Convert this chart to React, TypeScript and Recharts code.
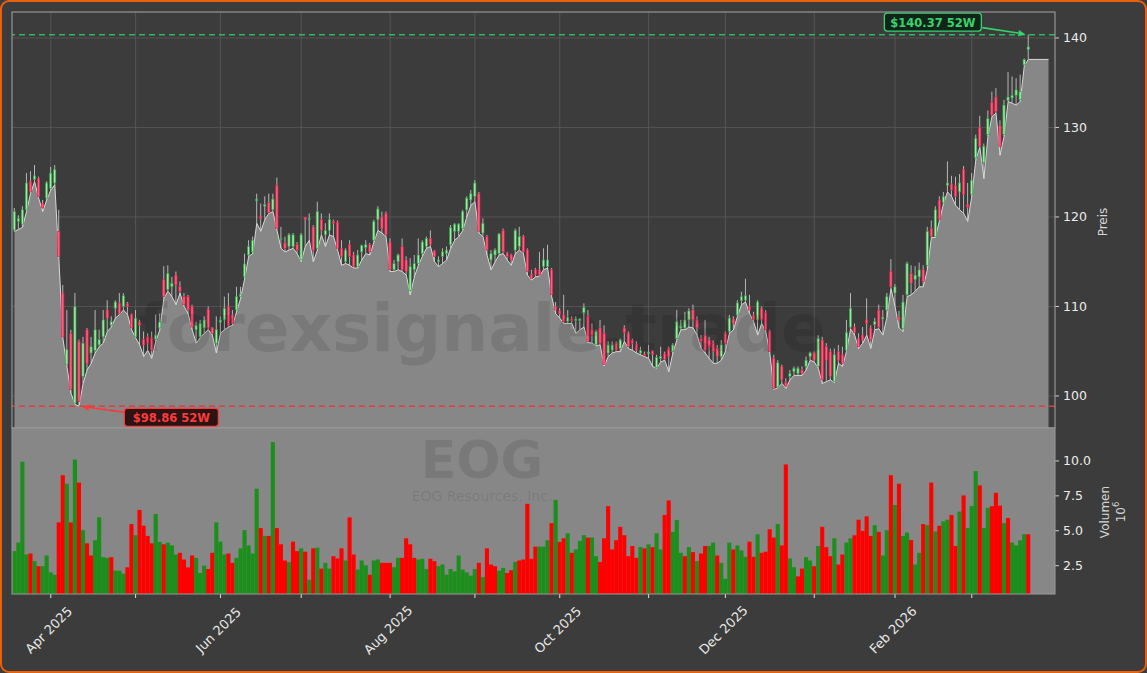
import React from "react";
import {
  ComposedChart,
  Area,
  Bar,
  XAxis,
  YAxis,
  CartesianGrid,
  ReferenceLine,
  ReferenceDot,
} from "recharts";

// EOG daily candles, 19 Mar 2025 .. 20 Mar 2026 (trading days, index = position)
const opens = [
  118.55, 119.5, 119.2, 120.8, 123.95, 124.2, 124.3, 121.5, 122.1, 123.2,
  123.8, 118.4, 111.5, 103.5, 107.0, 99.2, 106.1, 102.2, 107.4, 104.8,
  105.1, 105.7, 106.6, 109.6, 107.9, 109.8, 110.4, 110.0, 110.3, 109.1,
  106.6, 108.3, 106.3, 106.6, 106.5, 106.3, 107.6, 113.0, 111.9, 112.2,
  113.5, 112.2, 111.1, 111.1, 110.0, 107.4, 106.6, 107.6, 109.7, 107.6,
  105.9, 108.2, 108.5, 110.0, 109.05, 109.6, 111.1, 113.3, 115.75, 116.1,
  121.8, 120.1, 121.2, 121.6, 120.8, 123.5, 117.5, 117.1, 116.7, 116.7,
  116.9, 115.2, 119.96, 119.7, 118.9, 116.5, 119.7, 118.0, 118.5, 119.5,
  119.4, 116.5, 115.0, 116.9, 115.75, 114.45, 116.1, 116.6, 116.9, 117.4,
  119.7, 120.0, 120.4, 117.2, 114.1, 115.0, 116.7, 115.2, 111.8, 114.1,
  114.8, 115.9, 116.7, 117.6, 116.2, 115.0, 115.6, 115.9, 116.9, 118.4,
  118.4, 118.7, 120.8, 121.9, 122.3, 122.6, 118.2, 117.8, 115.2, 115.75,
  115.9, 118.5, 115.9, 115.75, 116.3, 116.7, 117.8, 116.3, 113.6, 114.1,
  114.1, 114.45, 114.45, 114.1, 110.0, 109.5, 109.05, 108.3, 108.6, 108.4,
  108.4, 109.3, 108.9, 107.4, 105.7, 107.6, 107.0, 104.8, 105.1, 105.9,
  105.3, 107.6, 107.0, 106.2, 105.8, 104.8, 104.7, 104.7, 105.0, 103.2,
  104.2, 104.7, 105.3, 104.95, 106.4, 107.6, 107.6, 108.5, 109.6, 108.5,
  106.4, 106.8, 106.25, 105.9, 105.3, 104.4, 107.0, 107.2, 108.6, 109.05,
  110.65, 110.7, 110.0, 109.05, 108.5, 109.8, 109.3, 107.2, 104.2, 101.0,
  103.3, 101.5, 102.2, 102.7, 102.5, 102.9, 103.3, 104.4, 104.8, 103.3,
  106.25, 105.5, 104.95, 101.6, 104.95, 104.6, 105.1, 107.7, 107.7, 106.4,
  106.8, 108.5, 107.6, 108.0, 109.6, 108.6, 109.6, 113.9, 111.5, 108.8,
  107.5, 111.3, 113.7, 113.0, 113.3, 114.1, 114.6, 118.7, 117.8, 121.9,
  121.6, 123.5, 123.7, 123.5, 122.8, 125.3, 121.4, 122.5, 126.6, 130.0,
  126.1, 129.2, 132.8, 133.4, 130.2, 129.2, 133.0, 133.3, 133.6, 133.1,
  137.0, 138.7,
];

const highs = [
  121.0, 120.2, 121.2, 124.9, 125.1, 125.8, 124.5, 121.9, 124.0, 125.6,
  125.8, 120.8, 112.4, 109.6, 107.4, 111.5, 106.3, 106.6, 107.6, 106.6,
  109.6, 107.4, 109.6, 110.7, 108.9, 110.7, 111.5, 111.5, 110.5, 109.2,
  109.6, 108.5, 107.2, 107.0, 107.2, 109.1, 109.2, 114.5, 114.6, 113.3,
  113.9, 112.8, 111.5, 111.3, 110.2, 108.3, 108.5, 108.9, 110.0, 107.7,
  108.9, 108.9, 111.1, 111.5, 109.6, 112.2, 112.2, 115.9, 117.4, 117.8,
  122.6, 121.5, 122.3, 122.6, 122.6, 124.4, 118.9, 117.8, 118.2, 118.2,
  117.2, 118.2, 120.0, 120.4, 119.1, 121.7, 120.4, 119.3, 120.4, 119.7,
  119.6, 117.4, 116.5, 117.4, 116.1, 116.3, 116.9, 117.4, 117.1, 119.7,
  121.2, 120.6, 120.6, 117.6, 115.2, 115.9, 117.6, 115.6, 115.4, 115.75,
  117.6, 117.4, 117.8, 118.5, 116.3, 115.6, 116.5, 116.7, 119.1, 119.3,
  119.3, 120.8, 122.3, 123.0, 124.1, 122.8, 119.85, 118.0, 116.3, 116.5,
  118.2, 118.7, 116.1, 115.9, 118.7, 118.9, 118.0, 116.5, 114.1, 114.3,
  116.1, 116.5, 116.9, 114.3, 110.5, 109.8, 111.3, 109.6, 108.9, 108.9,
  108.7, 110.35, 109.6, 108.1, 107.4, 108.5, 107.9, 106.1, 106.1, 106.1,
  106.4, 107.9, 107.2, 106.4, 106.1, 105.5, 104.95, 105.7, 105.1, 104.6,
  105.5, 104.95, 105.5, 105.9, 109.6, 108.5, 109.4, 109.8, 110.2, 108.9,
  106.8, 108.5, 106.6, 106.2, 105.7, 106.25, 107.2, 109.05, 108.9, 110.7,
  111.65, 113.1, 111.3, 109.4, 110.7, 110.0, 109.6, 107.4, 104.6, 104.0,
  103.5, 101.97, 102.9, 103.3, 103.3, 103.3, 104.4, 104.95, 104.95, 106.8,
  106.6, 105.9, 105.3, 105.3, 105.7, 105.5, 108.5, 111.5, 108.1, 107.0,
  107.7, 110.9, 107.9, 108.7, 110.2, 109.6, 111.5, 115.3, 112.5, 109.5,
  111.3, 115.0, 114.6, 114.5, 114.9, 114.6, 118.9, 119.6, 121.2, 122.3,
  122.8, 126.2, 124.6, 124.5, 124.8, 125.7, 123.8, 124.9, 129.2, 131.3,
  128.2, 131.9, 134.0, 134.4, 130.8, 133.1, 136.2, 135.7, 135.5, 135.9,
  137.7, 140.37,
];

const lows = [
  118.4, 118.6, 118.85, 120.6, 122.65, 123.95, 122.1, 120.6, 121.9, 123.0,
  123.6, 115.4, 106.45, 103.3, 100.3, 99.05, 98.86, 101.4, 102.9, 103.65,
  104.8, 105.5, 105.9, 107.2, 107.7, 108.7, 109.1, 109.6, 109.1, 107.4,
  106.5, 105.7, 104.4, 105.1, 104.2, 106.1, 107.4, 110.9, 111.7, 111.1,
  110.2, 111.5, 110.0, 109.2, 107.4, 105.9, 106.5, 107.0, 107.4, 106.8,
  104.8, 107.0, 107.4, 107.7, 107.9, 109.4, 110.9, 113.1, 115.6, 115.9,
  119.3, 118.4, 119.7, 120.4, 120.6, 118.5, 116.5, 116.1, 116.3, 116.5,
  115.9, 115.0, 116.7, 117.4, 115.0, 116.3, 118.0, 116.7, 118.0, 117.8,
  116.3, 114.6, 114.8, 114.6, 114.3, 114.3, 115.2, 115.9, 115.75, 117.2,
  118.5, 118.2, 117.8, 113.9, 113.9, 114.1, 113.9, 113.5, 111.3, 113.3,
  114.6, 115.6, 116.5, 116.7, 115.0, 114.45, 114.8, 115.2, 116.5, 117.4,
  117.8, 118.5, 120.0, 121.3, 121.7, 118.2, 117.8, 115.75, 114.1, 115.0,
  115.75, 115.9, 115.2, 114.6, 115.9, 116.3, 115.9, 113.5, 112.95, 113.3,
  113.4, 114.1, 114.3, 111.1, 109.2, 108.7, 108.1, 108.1, 108.1, 107.0,
  107.4, 107.7, 105.96, 105.9, 105.6, 105.7, 103.35, 104.4, 104.8, 104.95,
  104.95, 106.1, 105.3, 105.1, 104.8, 104.6, 104.4, 104.2, 103.3, 103.1,
  103.8, 104.0, 102.7, 104.8, 106.25, 107.4, 107.4, 107.7, 107.6, 106.8,
  105.3, 104.8, 104.2, 103.65, 103.65, 104.0, 104.95, 107.0, 107.4, 108.9,
  110.2, 110.5, 109.2, 108.3, 106.8, 108.1, 107.2, 104.8, 100.75, 100.9,
  101.4, 100.85, 101.8, 102.3, 102.3, 102.3, 102.9, 104.0, 103.8, 103.1,
  101.4, 101.6, 101.8, 101.5, 103.65, 103.3, 105.0, 107.5, 106.8, 105.3,
  105.9, 106.8, 105.3, 107.4, 107.5, 106.8, 108.8, 112.0, 110.0, 107.6,
  107.2, 111.1, 111.3, 111.7, 112.2, 112.2, 114.1, 117.7, 117.7, 119.6,
  121.5, 122.8, 122.3, 121.3, 120.8, 120.4, 119.5, 122.3, 126.4, 127.8,
  124.3, 129.0, 131.2, 131.6, 126.9, 129.0, 132.9, 132.7, 132.5, 132.9,
  136.9, 137.6,
];

const closes = [
  120.6, 119.85, 120.8, 123.8, 122.8, 124.6, 122.3, 121.0, 123.8, 124.9,
  125.3, 115.6, 106.6, 105.2, 100.7, 110.0, 99.4, 105.9, 103.6, 105.5,
  107.4, 106.3, 108.5, 108.7, 108.3, 110.5, 109.2, 111.2, 110.0, 107.6,
  108.7, 107.9, 105.7, 105.9, 105.1, 106.8, 108.3, 111.1, 113.7, 112.6,
  112.4, 111.7, 110.2, 109.6, 107.7, 107.9, 108.1, 108.5, 107.6, 107.0,
  107.4, 108.5, 109.8, 107.9, 108.1, 111.1, 111.4, 114.75, 116.7, 117.4,
  122.0, 119.85, 121.4, 120.5, 122.0, 118.7, 117.6, 116.5, 118.0, 118.0,
  116.3, 118.0, 119.7, 119.85, 116.3, 120.6, 118.5, 118.5, 119.7, 119.3,
  116.5, 115.6, 116.3, 115.6, 114.45, 115.75, 116.8, 116.9, 116.1, 119.5,
  120.9, 118.7, 118.0, 114.1, 114.8, 115.75, 114.1, 113.9, 114.45, 114.8,
  115.75, 117.2, 117.6, 116.9, 115.6, 115.2, 116.1, 116.3, 118.8, 119.2,
  119.2, 120.6, 122.1, 122.6, 123.8, 118.4, 119.3, 116.3, 115.9, 116.3,
  118.1, 116.1, 115.6, 115.2, 118.5, 117.8, 116.1, 113.9, 113.15, 113.6,
  113.5, 115.2, 115.2, 111.3, 109.6, 109.2, 108.3, 108.8, 108.4, 108.6,
  108.6, 109.9, 106.1, 106.8, 107.2, 105.9, 103.5, 105.7, 105.7, 105.1,
  106.25, 107.1, 105.5, 105.9, 105.1, 105.1, 104.5, 104.9, 104.65, 104.3,
  104.4, 104.1, 104.4, 105.7, 108.3, 107.8, 108.5, 109.5, 108.5, 107.6,
  106.1, 105.1, 105.5, 105.0, 104.4, 105.7, 105.9, 108.7, 108.1, 110.4,
  111.1, 111.2, 109.6, 108.5, 110.5, 108.5, 107.4, 104.95, 100.85, 103.7,
  101.8, 101.1, 102.5, 103.1, 103.1, 102.5, 104.0, 104.8, 104.0, 106.4,
  101.8, 104.0, 102.2, 104.6, 104.0, 103.65, 107.1, 109.8, 107.1, 105.5,
  106.25, 108.1, 106.25, 108.3, 107.7, 108.8, 111.1, 112.2, 112.2, 108.5,
  110.5, 114.8, 112.6, 113.5, 114.1, 112.8, 118.4, 117.8, 120.8, 119.7,
  122.3, 123.8, 123.0, 122.3, 123.8, 122.5, 121.1, 124.1, 128.8, 127.9,
  127.9, 131.0, 131.4, 131.8, 127.9, 132.5, 133.4, 133.6, 134.2, 134.0,
  137.6, 139.0,
];

// volume in millions of shares
const volumes = [
  3.54, 4.15, 9.94, 3.3, 3.37, 2.82, 2.46, 2.46, 3.23, 2.02,
  1.85, 5.6, 8.98, 8.37, 5.6, 10.1, 8.45, 5.04, 4.1, 3.23,
  4.32, 5.96, 3.11, 3.06, 3.11, 2.14, 2.14, 1.93, 2.38, 5.48,
  4.68, 6.49, 5.36, 4.63, 4.1, 6.2, 4.2, 4.03, 4.15, 3.95,
  3.3, 3.42, 2.94, 2.38, 3.23, 3.06, 1.97, 2.5, 2.26, 3.42,
  5.6, 4.22, 3.3, 3.37, 2.7, 3.06, 3.74, 5.04, 3.95, 3.37,
  8.01, 5.19, 4.63, 4.63, 11.35, 5.19, 4.03, 2.87, 2.75, 4.22,
  3.54, 3.74, 3.5, 1.49, 3.74, 3.79, 2.29, 2.7, 2.29, 3.18,
  3.01, 3.74, 2.87, 5.96, 3.3, 2.22, 2.87, 2.53, 1.85, 2.87,
  2.94, 2.7, 2.7, 2.7, 2.38, 3.06, 3.06, 4.46, 4.03, 3.06,
  2.94, 2.99, 2.26, 2.99, 2.82, 2.46, 2.58, 1.85, 2.26, 2.09,
  3.23, 2.22, 2.02, 1.78, 2.26, 2.7, 1.68, 3.74, 2.58, 2.46,
  2.14, 2.34, 1.97, 2.17, 2.77, 2.87, 2.94, 6.93, 2.99, 3.86,
  3.86, 3.86, 4.32, 5.55, 7.21, 4.2, 4.46, 4.82, 3.42, 3.66,
  4.27, 4.68, 4.51, 4.51, 3.18, 2.77, 4.46, 6.76, 3.66, 4.32,
  5.28, 4.68, 3.18, 3.91, 3.06, 3.83, 3.74, 4.03, 3.83, 4.82,
  3.66, 6.13, 7.17, 4.92, 5.77, 3.42, 3.18, 3.83, 3.47, 2.82,
  3.37, 3.91, 3.91, 4.15, 3.23, 2.7, 1.56, 4.15, 3.66, 3.95,
  3.59, 3.13, 4.22, 3.13, 4.75, 3.42, 3.5, 5.11, 4.51, 5.48,
  3.95, 9.75, 3.01, 2.38, 1.73, 2.29, 3.11, 2.87, 2.46, 3.91,
  5.28, 3.83, 3.18, 4.46, 2.58, 3.3, 4.15, 4.46, 4.68, 5.79,
  4.99, 6.03, 4.63, 5.4, 4.92, 3.23, 5.04, 8.98, 6.85, 8.37,
  4.63, 4.87, 4.34, 2.58, 3.42, 5.48, 5.4, 8.45, 4.95, 5.36,
  5.67, 5.79, 6.13, 3.91, 6.37, 7.53, 5.19, 6.76, 9.27, 8.25,
  5.19, 6.64, 6.76, 7.72, 6.8, 5.55, 5.91, 4.15, 3.95, 4.32,
  4.75, 4.75,
];

// G = green (up) volume bar, R = red
const volDir =
  "GGGGRGRGGG" + "GRRGRGRGRR" + "GGGGRGGGRR" + "GRRRRGGRGG" + "GRRRRGGGRR" +
  "GGGRRGGGGG" + "GRGRGRRRGR" + "RGRGRGRGGR" + "RRGRRGGGRG" + "GRRRGGRRRR" +
  "GGGRRGGGGG" + "GGGGGRGRRR" + "GGRRGRRRRR" + "GGGRGRRGRG" + "GGRGGRRRRR" +
  "RRRRRGRGRG" + "GRRGGGRGRG" + "RRGGRGGGRG" + "GGRRGRRRRG" + "RRGGRRGGRG" +
  "RRRGRRGGRR" + "RRRGRGGRGR" + "GGRGGRGRGR" + "GGRRGRGGGR" + "GGRRRGRGGG" +
  "GR";

// first trading day of each month (index) and its label
const monthTicks = [9, 30, 51, 71, 93, 114, 135, 157, 176, 198, 218, 237];
const monthLabels = [
  "Apr 2025", "", "Jun 2025", "", "Aug 2025", "", "Oct 2025", "",
  "Dec 2025", "", "Feb 2026", "",
];
const priceTicks = [100, 110, 120, 130, 140];
const volTicks = [2.5, 5, 7.5, 10];

const high52 = { i: 251, value: 140.37, label: "$140.37 52W" };
const low52 = { i: 16, value: 98.86, label: "$98.86 52W" };
const areaEnd = 256; // fill continues flat a few sessions past the last candle

const W = 1147;
const H = 673;
const FONT = "'DejaVu Sans', sans-serif";
const BG = "#3c3c3c";
const PANEL = "#878787";
const XDOMAIN: [number, number] = [-0.6, 257.6];

const rows = closes.map((close, i) => ({
  i,
  open: opens[i],
  high: highs[i],
  low: lows[i],
  close,
  range: [lows[i], highs[i]],
  vol: volumes[i],
  volUp: volDir[i] === "G",
  fillLine: lows[i],
}));
const priceRows = [...rows, { i: areaEnd, fillLine: lows[lows.length - 1] }];

function Candle(props: any) {
  const { x, y, width, height, payload } = props;
  if (!payload || payload.open == null) return null;
  const { open, close, high, low } = payload;
  const top = Math.min(y, y + height);
  const h = Math.abs(height);
  const k = high > low ? h / (high - low) : 0;
  const cx = x + width / 2;
  const yO = top + (high - open) * k;
  const yC = top + (high - close) * k;
  const up = close >= open;
  const bodyTop = Math.min(yO, yC);
  const bodyH = Math.max(Math.abs(yO - yC), 1);
  return (
    <g>
      <line x1={cx} x2={cx} y1={top} y2={top + h} stroke="#d6d6d6" strokeWidth={0.8} />
      <rect
        x={cx - 1.1}
        y={bodyTop}
        width={2.2}
        height={bodyH}
        fill={up ? "#a8e8a8" : "#ff5f80"}
        stroke={up ? "#2e9e46" : "#e0244c"}
        strokeWidth={0.7}
      />
    </g>
  );
}

function VolBar(props: any) {
  const { x, y, width, height, payload } = props;
  if (!payload || payload.vol == null) return null;
  const cx = x + width / 2;
  const w = 4.1;
  return (
    <rect
      x={cx - w / 2}
      y={Math.min(y, y + height)}
      width={w}
      height={Math.abs(height)}
      fill={payload.volUp ? "#1c8e1c" : "#ff0000"}
    />
  );
}

function MonthTick(props: any) {
  const { x, y, payload } = props;
  const k = monthTicks.indexOf(payload.value);
  const label = k >= 0 ? monthLabels[k] : "";
  if (!label) return null;
  const cx = x - 2;
  const cy = y + 30;
  return (
    <text
      x={cx}
      y={cy}
      textAnchor="middle"
      dominantBaseline="central"
      transform={`rotate(-45, ${cx}, ${cy})`}
      fill="#e8e8e8"
      fontSize={13}
      fontFamily={FONT}
    >
      {label}
    </text>
  );
}

function Arrow({ x1, y1, x2, y2, color }: any) {
  const a = Math.atan2(y2 - y1, x2 - x1);
  const L = 7;
  const hw = 3.2;
  const bx = x2 - L * Math.cos(a);
  const by = y2 - L * Math.sin(a);
  const px = -Math.sin(a) * hw;
  const py = Math.cos(a) * hw;
  return (
    <g>
      <line x1={x1} y1={y1} x2={bx} y2={by} stroke={color} strokeWidth={1.6} />
      <polygon points={`${x2},${y2} ${bx + px},${by + py} ${bx - px},${by - py}`} fill={color} />
    </g>
  );
}

function Tag(props: any) {
  const { cx, cy, text, color, fill, bx, by, bw, ax, ay } = props;
  if (cx == null || cy == null) return null;
  const left = cx + bx;
  const top = cy + by;
  return (
    <g>
      <Arrow x1={cx + ax} y1={cy + ay} x2={cx + (ax < 0 ? -3 : 3)} y2={cy + (ay < 0 ? -0.5 : 0.5)} color={color} />
      <rect x={left} y={top} width={bw} height={18} rx={3} fill={fill} stroke={color} strokeWidth={1.3} />
      <text
        x={left + bw / 2}
        y={top + 9.5}
        textAnchor="middle"
        dominantBaseline="central"
        fontFamily={FONT}
        fontWeight="bold"
        fontSize={11.5}
        fill={color}
      >
        {text}
      </text>
    </g>
  );
}

export default function App() {
  return (
    <div
      style={{
        position: "fixed",
        left: 0,
        top: 0,
        width: W,
        height: H,
        background: BG,
        overflow: "hidden",
        fontFamily: FONT,
      }}
    >
      <div style={{ position: "absolute", left: 12, top: 428, width: 1043, height: 166, background: PANEL }} />

      <div style={{ position: "absolute", left: 0, top: 0 }}>
        <ComposedChart width={W} height={430} data={priceRows} margin={{ top: 12, right: 32, bottom: 2, left: 12 }}>
          <CartesianGrid stroke="#5a5a5a" strokeWidth={0.8} />
          <XAxis type="number" dataKey="i" domain={XDOMAIN} ticks={monthTicks} allowDataOverflow hide />
          <YAxis
            orientation="right"
            domain={[96.42, 142.9]}
            ticks={priceTicks}
            allowDataOverflow
            width={60}
            axisLine={false}
            tickSize={4}
            tickMargin={4}
            tickLine={{ stroke: "#cfcfcf" }}
            tick={{ fill: "#ececec", fontSize: 12.5, fontFamily: FONT }}
          />
          <Area
            type="linear"
            dataKey="fillLine"
            stroke="#d8d8d8"
            strokeWidth={1}
            fill={PANEL}
            fillOpacity={1}
            dot={false}
            activeDot={false}
            isAnimationActive={false}
          />
          <Bar dataKey="range" shape={Candle} isAnimationActive={false} />
          <ReferenceLine y={high52.value} stroke="#2fb85c" strokeDasharray="6 4" strokeWidth={1.5} />
          <ReferenceLine y={low52.value} stroke="#dd3d3d" strokeDasharray="6 4" strokeWidth={1.5} />
          <ReferenceDot
            x={high52.i}
            y={high52.value}
            r={0}
            shape={(p: any) => (
              <Tag
                cx={p.cx}
                cy={p.cy}
                text={high52.label}
                color="#35d46c"
                fill="#10241a"
                bx={-144}
                by={-21.6}
                bw={97}
                ax={-46}
                ay={-7}
              />
            )}
          />
          <ReferenceDot
            x={low52.i}
            y={low52.value}
            r={0}
            shape={(p: any) => (
              <Tag
                cx={p.cx}
                cy={p.cy}
                text={low52.label}
                color="#ff3a3a"
                fill="#2a1414"
                bx={45.3}
                by={2.2}
                bw={94}
                ax={45}
                ay={6}
              />
            )}
          />
        </ComposedChart>
      </div>

      <div style={{ position: "absolute", left: 0, top: 0 }}>
        <ComposedChart width={W} height={H} data={rows} margin={{ top: 428, right: 32, bottom: 0, left: 12 }}>
          <XAxis
            type="number"
            dataKey="i"
            domain={XDOMAIN}
            ticks={monthTicks}
            interval={0}
            allowDataOverflow
            height={79}
            axisLine={false}
            tickSize={4}
            tickLine={{ stroke: "#e0e0e0" }}
            tick={<MonthTick />}
          />
          <YAxis
            orientation="right"
            domain={[0.47, 12.36]}
            ticks={volTicks}
            allowDataOverflow
            width={60}
            axisLine={false}
            tickSize={4}
            tickMargin={4}
            tickLine={{ stroke: "#cfcfcf" }}
            tickFormatter={(v: number) => v.toFixed(1)}
            tick={{ fill: "#ececec", fontSize: 12.5, fontFamily: FONT }}
          />
          <Bar dataKey="vol" shape={VolBar} isAnimationActive={false} />
        </ComposedChart>
      </div>

      <svg width={W} height={H} style={{ position: "absolute", left: 0, top: 0, pointerEvents: "none" }}>
        <text x={482} y={351} textAnchor="middle" fontFamily={FONT} fontWeight="bold" fontSize={66} fill="#000" fillOpacity={0.1}>
          forexsignale.trade
        </text>
        <text x={482} y={478} textAnchor="middle" fontFamily={FONT} fontWeight="bold" fontSize={52} fill="#000" fillOpacity={0.1}>
          EOG
        </text>
        <text x={482} y={501} textAnchor="middle" fontFamily={FONT} fontSize={14} fill="#000" fillOpacity={0.1}>
          EOG Resources, Inc.
        </text>
        <rect x={12} y={12} width={1043} height={416} fill="none" stroke="#9a9a9a" strokeWidth={1} />
        <rect x={12} y={428} width={1043} height={166} fill="none" stroke="#9a9a9a" strokeWidth={1} />
        <text x={1103} y={222} textAnchor="middle" dominantBaseline="central" transform="rotate(-90, 1103, 222)" fontFamily={FONT} fontSize={12} fill="#d6d6d6">
          Preis
        </text>
        <text x={1105} y={512} textAnchor="middle" dominantBaseline="central" transform="rotate(-90, 1105, 512)" fontFamily={FONT} fontSize={12} fill="#d6d6d6">
          Volumen
        </text>
        <text x={1121} y={512} textAnchor="middle" dominantBaseline="central" transform="rotate(-90, 1121, 512)" fontFamily={FONT} fontSize={12} fill="#d6d6d6">
          10<tspan dy={-5} fontSize={8.5}>6</tspan>
        </text>
      </svg>

      <div
        style={{
          position: "absolute",
          inset: 0,
          border: "2px solid #e8620c",
          borderRadius: 9,
          pointerEvents: "none",
        }}
      />
    </div>
  );
}
